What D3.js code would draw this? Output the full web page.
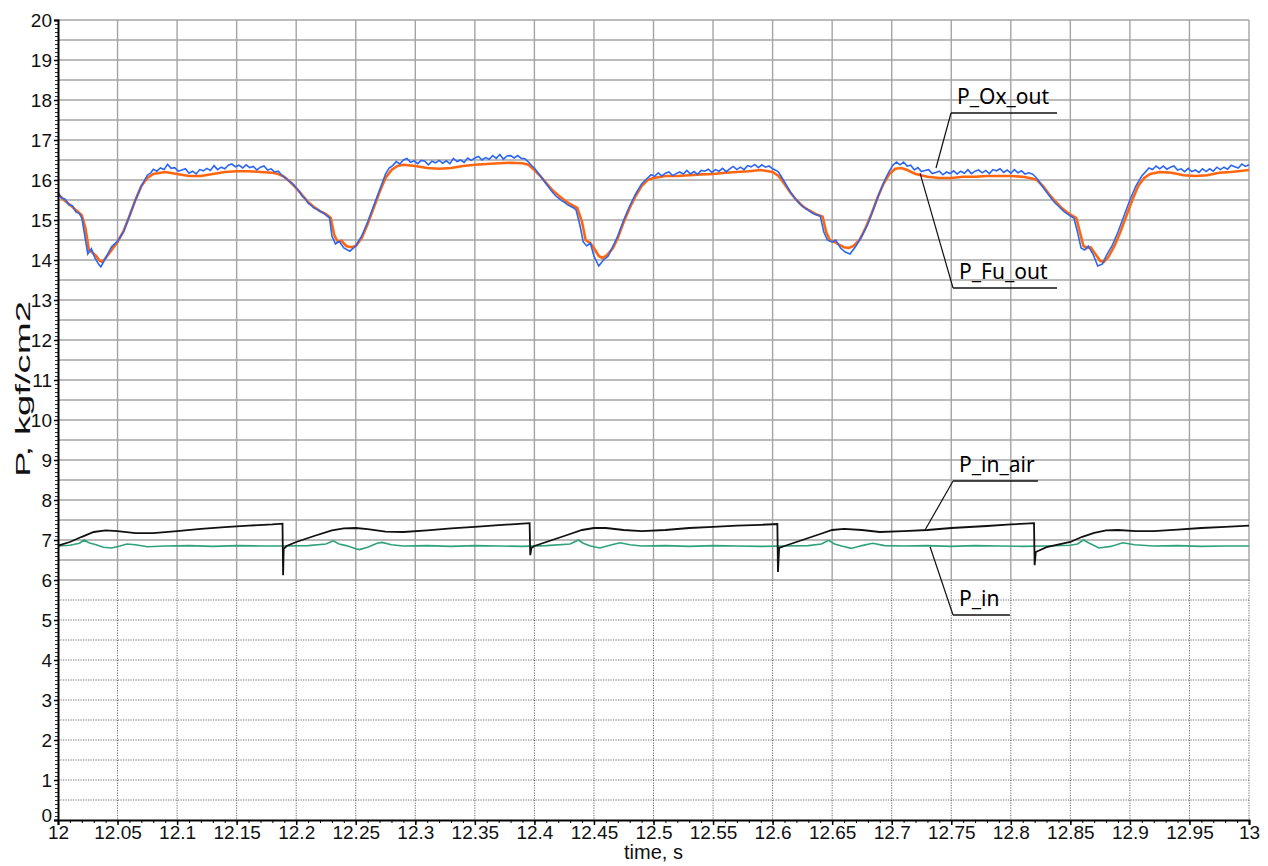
<!DOCTYPE html>
<html><head><meta charset="utf-8">
<script src="https://cdn.jsdelivr.net/npm/d3@7"></script>
<style>body{margin:0;background:#fff}svg{display:block}</style>
</head><body><svg id="c" width="1268" height="866"></svg>
<script>
// ---------- DATA ----------
const xTickValues = [12,12.05,12.1,12.15,12.2,12.25,12.3,12.35,12.4,12.45,12.5,12.55,12.6,12.65,12.7,12.75,12.8,12.85,12.9,12.95,13];
const xTickLabels = ["12","12.05","12.1","12.15","12.2","12.25","12.3","12.35","12.4","12.45","12.5","12.55","12.6","12.65","12.7","12.75","12.8","12.85","12.9","12.95","13"];
const yTickValues = [0,1,2,3,4,5,6,7,8,9,10,11,12,13,14,15,16,17,18,19,20];
const yTickLabels = ["0","1","2","3","4","5","6","7","8","9","10","11","12","13","14","15","16","17","18","19","20"];
const seriesNames = ["P_Ox_out","P_Fu_out","P_in_air","P_in"];

const pFuOut = [[12.000,15.65],[12.005,15.5],[12.010,15.38],[12.015,15.25],[12.020,15.12],[12.023,14.8],[12.026,14.25],[12.029,14.18],[12.032,14.1],[12.035,13.98],[12.037,13.95],[12.040,14.05],[12.045,14.25],[12.050,14.45],[12.055,14.72],[12.060,15.1],[12.065,15.5],[12.070,15.85],[12.075,16.05],[12.080,16.15],[12.090,16.2],[12.100,16.15],[12.110,16.1],[12.120,16.1],[12.130,16.15],[12.140,16.2],[12.150,16.22],[12.160,16.22],[12.170,16.2],[12.180,16.18],[12.185,16.15],[12.190,16.08],[12.195,15.95],[12.200,15.8],[12.205,15.62],[12.210,15.45],[12.215,15.32],[12.220,15.22],[12.225,15.15],[12.229,15.05],[12.232,14.62],[12.235,14.45],[12.238,14.48],[12.242,14.35],[12.246,14.32],[12.250,14.35],[12.255,14.55],[12.260,14.9],[12.265,15.3],[12.270,15.7],[12.275,16.05],[12.280,16.25],[12.285,16.35],[12.290,16.38],[12.300,16.35],[12.310,16.3],[12.320,16.28],[12.330,16.3],[12.340,16.35],[12.350,16.38],[12.360,16.4],[12.370,16.42],[12.380,16.43],[12.390,16.42],[12.395,16.38],[12.400,16.25],[12.405,16.1],[12.410,15.92],[12.415,15.75],[12.420,15.62],[12.425,15.5],[12.430,15.4],[12.436,15.3],[12.440,14.95],[12.443,14.5],[12.447,14.42],[12.450,14.3],[12.454,14.1],[12.457,14.05],[12.461,14.12],[12.466,14.3],[12.470,14.55],[12.475,14.95],[12.480,15.3],[12.485,15.6],[12.490,15.85],[12.495,16.0],[12.500,16.05],[12.510,16.1],[12.520,16.1],[12.530,16.12],[12.540,16.14],[12.550,16.15],[12.560,16.18],[12.570,16.2],[12.580,16.22],[12.590,16.25],[12.600,16.2],[12.605,16.1],[12.610,15.9],[12.615,15.68],[12.620,15.5],[12.625,15.35],[12.630,15.25],[12.636,15.15],[12.642,15.08],[12.645,14.7],[12.648,14.5],[12.652,14.45],[12.656,14.38],[12.660,14.32],[12.664,14.3],[12.668,14.35],[12.673,14.5],[12.678,14.8],[12.683,15.15],[12.688,15.55],[12.693,15.9],[12.698,16.15],[12.703,16.28],[12.708,16.3],[12.713,16.25],[12.720,16.15],[12.730,16.08],[12.740,16.05],[12.750,16.05],[12.760,16.08],[12.770,16.08],[12.780,16.1],[12.790,16.1],[12.800,16.1],[12.810,16.08],[12.816,16.05],[12.822,16.0],[12.827,15.85],[12.832,15.65],[12.837,15.48],[12.842,15.32],[12.847,15.2],[12.852,15.1],[12.855,15.05],[12.858,14.7],[12.861,14.35],[12.864,14.3],[12.867,14.32],[12.871,14.15],[12.875,13.98],[12.878,13.95],[12.882,14.08],[12.887,14.35],[12.892,14.7],[12.897,15.1],[12.902,15.5],[12.907,15.85],[12.912,16.05],[12.917,16.15],[12.925,16.2],[12.935,16.18],[12.945,16.12],[12.955,16.1],[12.965,16.12],[12.975,16.18],[12.985,16.2],[13.000,16.25]];

const pOxOut = [[12.000,15.68],[12.003,15.55],[12.006,15.52],[12.009,15.38],[12.012,15.36],[12.015,15.2],[12.018,15.16],[12.020,15.05],[12.022,14.7],[12.025,14.15],[12.028,14.28],[12.031,14.05],[12.034,13.9],[12.036,13.83],[12.040,14.05],[12.045,14.33],[12.050,14.47],[12.055,14.7],[12.060,15.1],[12.065,15.5],[12.070,15.85],[12.075,16.12],[12.078,16.18],
[12.080,16.27],[12.083,16.22],[12.086,16.30],[12.089,16.26],[12.092,16.39],[12.095,16.29],[12.098,16.31],[12.101,16.22],[12.104,16.25],[12.107,16.28],[12.110,16.17],[12.113,16.22],[12.116,16.15],[12.119,16.26],[12.122,16.23],[12.125,16.29],[12.128,16.24],[12.131,16.36],[12.134,16.26],[12.137,16.32],[12.140,16.28],[12.143,16.37],[12.146,16.40],[12.149,16.33],[12.152,16.37],[12.155,16.30],[12.158,16.38],[12.161,16.31],[12.164,16.34],[12.167,16.25],[12.170,16.32],[12.173,16.35],[12.176,16.25],[12.179,16.28],[12.182,16.20],[12.185,16.22],
[12.188,16.12],[12.191,16.05],[12.195,15.95],[12.198,15.88],[12.200,15.8],[12.203,15.7],[12.205,15.6],[12.208,15.52],[12.210,15.42],[12.213,15.36],[12.215,15.3],[12.218,15.26],[12.220,15.22],[12.223,15.17],[12.225,15.12],[12.228,15.05],[12.230,14.6],[12.233,14.4],[12.236,14.47],[12.240,14.3],[12.245,14.22],[12.250,14.35],[12.255,14.6],[12.260,14.95],[12.265,15.35],[12.270,15.75],[12.275,16.15],[12.278,16.3],
[12.281,16.36],[12.284,16.46],[12.287,16.40],[12.290,16.50],[12.293,16.54],[12.296,16.44],[12.299,16.48],[12.302,16.41],[12.305,16.49],[12.308,16.47],[12.311,16.38],[12.314,16.47],[12.317,16.43],[12.320,16.49],[12.323,16.42],[12.326,16.48],[12.329,16.41],[12.332,16.54],[12.335,16.46],[12.338,16.50],[12.341,16.44],[12.344,16.55],[12.347,16.49],[12.350,16.55],[12.353,16.59],[12.356,16.50],[12.359,16.56],[12.362,16.52],[12.365,16.61],[12.368,16.54],[12.371,16.64],[12.374,16.52],[12.377,16.60],[12.380,16.61],[12.383,16.55],[12.386,16.61],[12.389,16.54],[12.392,16.53],
[12.395,16.45],[12.398,16.35],[12.400,16.3],[12.403,16.18],[12.405,16.1],[12.408,15.98],[12.410,15.9],[12.413,15.78],[12.415,15.7],[12.418,15.6],[12.420,15.55],[12.423,15.48],[12.425,15.45],[12.428,15.38],[12.430,15.35],[12.433,15.3],[12.435,15.25],[12.438,14.9],[12.441,14.45],[12.444,14.35],[12.447,14.42],[12.450,14.1],[12.454,13.85],[12.458,14.0],[12.462,14.1],[12.466,14.35],[12.470,14.6],[12.475,15.0],[12.480,15.35],[12.485,15.65],[12.490,15.9],[12.495,16.05],
[12.498,16.13],[12.501,16.09],[12.504,16.18],[12.507,16.10],[12.510,16.17],[12.513,16.20],[12.516,16.11],[12.519,16.16],[12.522,16.20],[12.525,16.15],[12.528,16.24],[12.531,16.15],[12.534,16.21],[12.537,16.14],[12.540,16.24],[12.543,16.22],[12.546,16.27],[12.549,16.19],[12.552,16.26],[12.555,16.22],[12.558,16.29],[12.561,16.21],[12.564,16.28],[12.567,16.34],[12.570,16.26],[12.573,16.32],[12.576,16.26],[12.579,16.36],[12.582,16.33],[12.585,16.39],[12.588,16.31],[12.591,16.38],[12.594,16.32],[12.597,16.35],[12.600,16.28],
[12.603,16.24],[12.605,16.2],[12.608,16.05],[12.610,15.95],[12.613,15.8],[12.615,15.7],[12.618,15.57],[12.620,15.5],[12.623,15.4],[12.625,15.35],[12.628,15.28],[12.630,15.25],[12.633,15.18],[12.635,15.15],[12.638,15.12],[12.640,15.1],[12.643,14.7],[12.646,14.5],[12.650,14.45],[12.653,14.5],[12.657,14.3],[12.661,14.2],[12.665,14.15],[12.670,14.35],[12.675,14.6],[12.680,14.9],[12.685,15.3],[12.690,15.7],[12.695,16.05],[12.698,16.22],
[12.701,16.37],[12.704,16.45],[12.707,16.38],[12.710,16.45],[12.713,16.35],[12.716,16.37],[12.719,16.25],[12.722,16.31],[12.725,16.21],[12.728,16.24],[12.731,16.26],[12.734,16.16],[12.737,16.19],[12.740,16.22],[12.743,16.13],[12.746,16.20],[12.749,16.16],[12.752,16.23],[12.755,16.15],[12.758,16.22],[12.761,16.17],[12.764,16.26],[12.767,16.16],[12.770,16.22],[12.773,16.25],[12.776,16.18],[12.779,16.24],[12.782,16.16],[12.785,16.26],[12.788,16.23],[12.791,16.28],[12.794,16.19],[12.797,16.25],[12.800,16.17],[12.803,16.26],[12.806,16.18],[12.809,16.23],[12.812,16.15],[12.815,16.18],[12.818,16.15],
[12.820,16.1],[12.823,16.0],[12.825,15.9],[12.828,15.78],[12.830,15.7],[12.833,15.58],[12.835,15.5],[12.838,15.4],[12.840,15.35],[12.843,15.26],[12.845,15.2],[12.848,15.14],[12.850,15.1],[12.853,15.05],[12.856,14.7],[12.859,14.3],[12.862,14.25],[12.865,14.35],[12.869,14.15],[12.873,13.85],[12.877,13.9],[12.880,14.1],[12.885,14.35],[12.890,14.7],[12.895,15.1],[12.900,15.5],[12.905,15.85],[12.910,16.1],[12.913,16.2],
[12.916,16.30],[12.919,16.26],[12.922,16.35],[12.925,16.28],[12.928,16.35],[12.931,16.27],[12.934,16.32],[12.937,16.35],[12.940,16.25],[12.943,16.28],[12.946,16.21],[12.949,16.29],[12.952,16.21],[12.955,16.25],[12.958,16.19],[12.961,16.28],[12.964,16.21],[12.967,16.28],[12.970,16.22],[12.973,16.32],[12.976,16.26],[12.979,16.32],[12.982,16.27],[12.985,16.37],[12.988,16.33],[12.991,16.30],[12.994,16.40],[12.997,16.34],[13.000,16.38]];

const pInAir = [[12.000,6.86],[12.010,6.95],[12.020,7.08],[12.030,7.2],[12.040,7.24],[12.050,7.22],[12.065,7.17],[12.080,7.17],[12.100,7.22],[12.120,7.28],[12.140,7.32],[12.160,7.36],[12.180,7.39],[12.1885,7.41],[12.1890,6.12],[12.1895,6.78],[12.192,6.85],[12.200,6.95],[12.215,7.1],[12.230,7.24],[12.240,7.29],[12.250,7.3],[12.260,7.27],[12.275,7.21],[12.290,7.2],[12.310,7.24],[12.330,7.29],[12.350,7.33],[12.370,7.37],[12.390,7.41],[12.3960,7.42],[12.3965,6.62],[12.3975,6.8],[12.400,6.85],[12.415,7.0],[12.430,7.15],[12.440,7.25],[12.450,7.3],[12.460,7.3],[12.475,7.25],[12.490,7.22],[12.510,7.25],[12.530,7.3],[12.550,7.33],[12.570,7.36],[12.590,7.38],[12.6040,7.4],[12.6045,6.2],[12.6055,6.8],[12.610,6.85],[12.625,7.0],[12.640,7.15],[12.650,7.25],[12.660,7.28],[12.675,7.25],[12.690,7.2],[12.710,7.22],[12.730,7.25],[12.750,7.3],[12.780,7.35],[12.800,7.39],[12.8195,7.42],[12.8200,6.37],[12.8210,6.7],[12.830,6.82],[12.850,6.95],[12.860,7.08],[12.870,7.18],[12.880,7.24],[12.890,7.25],[12.905,7.22],[12.920,7.22],[12.940,7.26],[12.960,7.3],[12.980,7.33],[13.000,7.36]];

const pIn = [[12.000,6.85],[12.010,6.87],[12.018,6.92],[12.022,7.0],[12.026,6.93],[12.032,6.88],[12.038,6.82],[12.045,6.8],[12.052,6.85],[12.058,6.9],[12.065,6.88],[12.075,6.83],[12.090,6.85],[12.110,6.86],[12.130,6.84],[12.150,6.86],[12.170,6.85],[12.190,6.85],[12.210,6.86],[12.225,6.9],[12.231,6.98],[12.236,6.9],[12.242,6.86],[12.250,6.78],[12.253,6.76],[12.260,6.82],[12.268,6.92],[12.272,6.94],[12.280,6.88],[12.290,6.85],[12.310,6.86],[12.330,6.84],[12.350,6.86],[12.370,6.85],[12.390,6.84],[12.410,6.86],[12.430,6.9],[12.437,7.0],[12.441,6.92],[12.447,6.85],[12.455,6.8],[12.465,6.88],[12.472,6.93],[12.480,6.88],[12.490,6.85],[12.510,6.86],[12.530,6.84],[12.550,6.86],[12.570,6.85],[12.590,6.84],[12.610,6.85],[12.630,6.86],[12.641,6.9],[12.647,6.99],[12.652,6.9],[12.658,6.85],[12.666,6.79],[12.675,6.86],[12.684,6.92],[12.694,6.86],[12.710,6.85],[12.730,6.86],[12.750,6.84],[12.770,6.86],[12.790,6.85],[12.810,6.84],[12.830,6.85],[12.850,6.87],[12.856,6.9],[12.861,7.0],[12.866,6.92],[12.874,6.8],[12.884,6.84],[12.894,6.93],[12.904,6.88],[12.920,6.85],[12.940,6.86],[12.960,6.84],[12.980,6.85],[13.000,6.85]];

// ---------- CHART ----------
const svg = d3.select("#c");
const L = 58, R = 1249, T = 20, B = 820;
const x = d3.scaleLinear().domain([12,13]).range([L,R]);
const y = d3.scaleLinear().domain([0,20]).range([B,T]);
const split = 6;
const FONT = "'Liberation Sans', Arial, sans-serif";

const grid = svg.append("g");
d3.range(0.5, 20.01, 0.5).forEach(v => {
  const solid = v >= split - 1e-9;
  grid.append("line").attr("x1",L).attr("x2",R).attr("y1",y(v)).attr("y2",y(v))
    .attr("stroke", solid ? "#a4a4a4" : "#666")
    .attr("stroke-width", solid ? 1.4 : 1)
    .attr("stroke-dasharray", solid ? null : "1.2,1.3");
});
xTickValues.slice(1).forEach(t => {
  grid.append("line").attr("x1",x(t)).attr("x2",x(t)).attr("y1",y(20)).attr("y2",y(split))
    .attr("stroke","#a4a4a4").attr("stroke-width",1.4);
  grid.append("line").attr("x1",x(t)).attr("x2",x(t)).attr("y1",y(split)).attr("y2",y(0))
    .attr("stroke","#666").attr("stroke-width",1).attr("stroke-dasharray","1.2,1.3");
});

const line = d3.line().x(d => x(d[0])).y(d => y(d[1]));
const plot = svg.append("g");
plot.append("path").datum(pIn).attr("d",line).attr("fill","none").attr("stroke","#2fa27a").attr("stroke-width",1.6);
plot.append("path").datum(pInAir).attr("d",line).attr("fill","none").attr("stroke","#111").attr("stroke-width",1.8);
plot.append("path").datum(pFuOut).attr("d",line).attr("fill","none").attr("stroke","#ff6610").attr("stroke-width",2.6);
plot.append("path").datum(pOxOut).attr("d",line).attr("fill","none").attr("stroke","#2d66f2").attr("stroke-width",1.6);

// axes
const xAxis = d3.axisBottom(x).tickValues(xTickValues).tickFormat((d,i) => xTickLabels[i]).tickSize(5).tickPadding(1);
const gx = svg.append("g").attr("transform",`translate(0,${B})`).call(xAxis);
gx.select(".domain").attr("stroke","#000").attr("stroke-width",2);
gx.selectAll(".tick line").attr("stroke","#000").attr("stroke-width",1.5);
gx.selectAll("text").style("font-family",FONT).style("font-size","19px").attr("fill","#111");
const xMinor = d3.axisBottom(x).tickValues(d3.range(12.01,13,0.01)).tickFormat("").tickSize(3);
const gxm = svg.append("g").attr("transform",`translate(0,${B})`).call(xMinor);
gxm.select(".domain").remove();
gxm.selectAll(".tick line").attr("stroke","#000").attr("stroke-width",1);

const yAxis = d3.axisLeft(y).tickValues(yTickValues).tickFormat((d,i) => yTickLabels[i]).tickSize(4).tickPadding(2);
const gy = svg.append("g").attr("transform",`translate(${L},0)`).call(yAxis);
gy.select(".domain").attr("stroke","#000").attr("stroke-width",2);
gy.selectAll(".tick line").attr("stroke","#000").attr("stroke-width",1.5);
gy.selectAll("text").style("font-family",FONT).style("font-size","19px").attr("fill","#111");
gy.selectAll(".tick").filter(d => d === 0).select("text").attr("dy","0.1em");
const yMinor = d3.axisLeft(y).tickValues(d3.range(0.1,20,0.1)).tickFormat("").tickSize(3);
const gym = svg.append("g").attr("transform",`translate(${L},0)`).call(yMinor);
gym.select(".domain").remove();
gym.selectAll(".tick line").attr("stroke","#000").attr("stroke-width",0.8);

// axis titles
svg.append("text").attr("x", x(12.5)).attr("y", 859).attr("text-anchor","middle")
  .style("font-family",FONT).style("font-size","20px").attr("fill","#111").text("time, s");
svg.append("text").attr("transform",`translate(30,389) rotate(-90)`).attr("text-anchor","middle")
  .style("font-family",FONT).style("font-size","21px").attr("fill","#111")
  .attr("textLength",176).attr("lengthAdjust","spacingAndGlyphs").text("P, kgf/cm2");

// annotations: [name, underline value, start t, end t, pointer t, pointer v]
const ann = [
  [seriesNames[0], 17.675, 12.7498, 12.8388, 12.7372, 16.30],
  [seriesNames[1], 13.30, 12.7515, 12.8388, 12.7238, 16.17],
  [seriesNames[2], 8.475, 12.7515, 12.8228, 12.7280, 7.25],
  [seriesNames[3], 5.125, 12.7515, 12.7993, 12.7322, 6.83]
];
const ag = svg.append("g");
ann.forEach(a => {
  ag.append("line").attr("x1",x(a[2])).attr("x2",x(a[3])).attr("y1",y(a[1])).attr("y2",y(a[1]))
    .attr("stroke","#111").attr("stroke-width",1.6);
  ag.append("line").attr("x1",x(a[2])).attr("y1",y(a[1])).attr("x2",x(a[4])).attr("y2",y(a[5]))
    .attr("stroke","#111").attr("stroke-width",1.2);
  ag.append("text").attr("x", x(a[2]) + 6).attr("y", y(a[1]) - 9)
    .style("font-family","'Noto Sans', 'Open Sans', sans-serif").style("font-size","21px").attr("fill","#000").text(a[0]);
});
</script></body></html>
